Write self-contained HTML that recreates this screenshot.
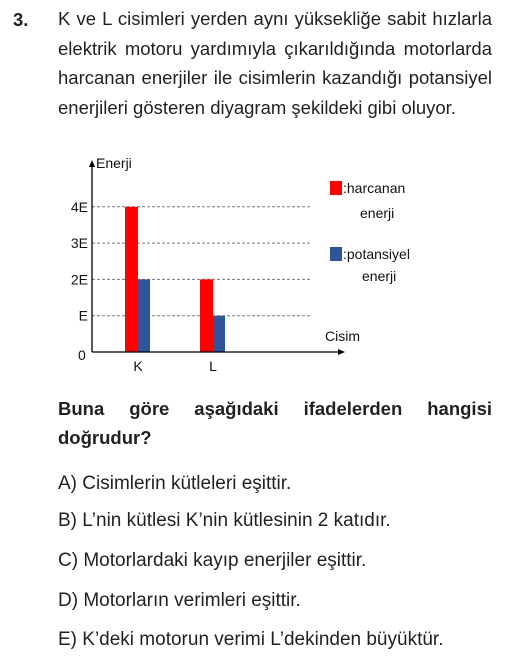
<!DOCTYPE html>
<html><head><meta charset="utf-8"><style>
body{margin:0;width:510px;height:662px;background:#fff;font-family:"Liberation Sans",sans-serif;color:#231f20;position:relative;overflow:hidden}
.a{position:absolute}
.q{position:absolute;left:58px;top:4px;width:434px;font-size:18.5px;line-height:29.5px;text-align:justify;text-align-last:justify}
.q .l{display:block;white-space:nowrap;text-align-last:justify}
.q .l.last{text-align-last:left}
.b{position:absolute;left:58px;top:394px;width:434px;font-size:18.5px;font-weight:bold;line-height:29px}
.b .l{display:block;text-align:justify;text-align-last:justify}
.b .l.last{text-align-last:left}
.opt{position:absolute;left:58px;font-size:19px}
svg text{font-family:"Liberation Sans",sans-serif;fill:#111}
</style></head><body>
<div class="a" style="left:13px;top:9px;font-size:18.5px;font-weight:bold">3.</div>
<div class="q">
<span class="l">K ve L cisimleri yerden aynı yüksekliğe sabit hızlarla</span>
<span class="l">elektrik motoru yardımıyla çıkarıldığında motorlarda</span>
<span class="l">harcanan enerjiler ile cisimlerin kazandığı potansiyel</span>
<span class="l last">enerjileri gösteren diyagram şekildeki gibi oluyor.</span>
</div>
<svg class="a" style="left:0;top:0" width="510" height="380">
<g id="grid"></g><g id="bars"></g>
<line x1="92" y1="352" x2="92" y2="164" stroke="#000" stroke-width="1.3"/>
<polygon points="92,160 89,167 95,167" fill="#000"/>
<line x1="92" y1="352" x2="340" y2="352" stroke="#000" stroke-width="1.3"/>
<polygon points="345,352 338,349 338,355" fill="#000"/>
<text x="96" y="168" font-size="14">Enerji</text>
<text x="325" y="341" font-size="14">Cisim</text>
<text x="78" y="360" font-size="14">0</text>
<g id="ticks"></g><g id="cats"></g>
<rect x="330" y="181" width="12" height="14" fill="#ff0000"/>
<text x="343" y="193" font-size="14">:harcanan</text>
<text x="360" y="218" font-size="14">enerji</text>
<rect x="330" y="247" width="12" height="14" fill="#2e5597"/>
<text x="343" y="259" font-size="14">:potansiyel</text>
<text x="362" y="281" font-size="14">enerji</text>
</svg>
<div class="b"><span class="l">Buna göre aşağıdaki ifadelerden hangisi</span><span class="l last">doğrudur?</span></div>
<div class="opt" style="top:473px">A) Cisimlerin kütleleri eşittir.</div>
<div class="opt" style="top:510px">B) L’nin kütlesi K’nin kütlesinin 2 katıdır.</div>
<div class="opt" style="top:550px">C) Motorlardaki kayıp enerjiler eşittir.</div>
<div class="opt" style="top:590px">D) Motorların verimleri eşittir.</div>
<div class="opt" style="top:629px">E) K’deki motorun verimi L’dekinden büyüktür.</div>
<script>
const categories=["K","L"];
const harcanan=[4,2];
const potansiyel=[2,1];
const tickValues=[1,2,3,4];
const tickLabels=["E","2E","3E","4E"];
const NS="http://www.w3.org/2000/svg";
const y=v=>352-v*36.3;
const xc=i=>138+i*75;
function mk(t,a,p){const e=document.createElementNS(NS,t);for(const k in a)e.setAttribute(k,a[k]);p.appendChild(e);return e;}
const g=document.getElementById('grid'),b=document.getElementById('bars'),tk=document.getElementById('ticks'),ct=document.getElementById('cats');
tickValues.forEach((v,i)=>{
 const l=mk('line',{x1:92,x2:310,y1:y(v),y2:y(v),stroke:'#777','stroke-dasharray':'3,2','stroke-width':1},g);
 
 
 const t=mk('text',{x:88,y:y(v)+5,'font-size':14,'text-anchor':'end'},tk);t.textContent=tickLabels[i];
 
 
});
categories.forEach((c,i)=>{
 const r=mk('rect',{x:xc(i)-13,y:y(harcanan[i]),width:13,height:352-y(harcanan[i]),fill:'#ff0000'},b);
 
 
 const r2=mk('rect',{x:xc(i),y:y(potansiyel[i]),width:12,height:352-y(potansiyel[i]),fill:'#2e5597'},b);
 
 
 const t=mk('text',{x:xc(i),y:371,'font-size':14,'text-anchor':'middle'},ct);t.textContent=c;
 
 
});
</script>
</body></html>
